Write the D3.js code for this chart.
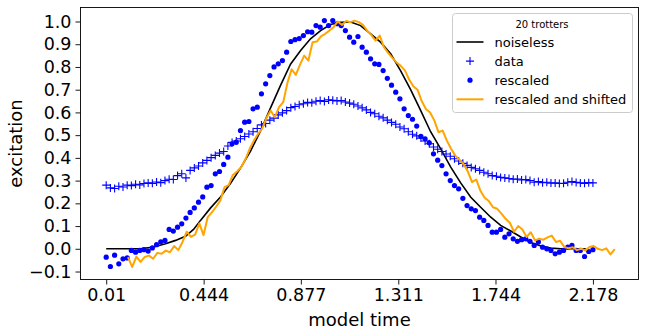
<!DOCTYPE html>
<html>
<head>
<meta charset="utf-8">
<script src="https://cdn.jsdelivr.net/npm/d3@7"></script>
<style>
  body { margin: 0; background: #fff; }
  text { font-family: "DejaVu Sans", sans-serif; fill: #000; }
</style>
</head>
<body>
<svg id="chart" width="645" height="333"></svg>
<script>
// sample times of the simulation (grid from first to last step)
var timeStart = 0.01;
var timeEnd = 2.178;
var timeCount = 117;
var times = d3.range(timeCount).map(function (i) {
  return timeStart + i * (timeEnd - timeStart) / (timeCount - 1);
});

// shift applied to the "rescaled and shifted" curve
var timeShift = 0.097;

var dataValues = [
  0.280, 0.268, 0.265, 0.275, 0.272, 0.280, 0.278, 0.284, 0.281, 0.287,
  0.290, 0.288, 0.294, 0.291, 0.300, 0.306, 0.305, 0.322, 0.330, 0.312,
  0.345, 0.356, 0.364, 0.378, 0.389, 0.401, 0.411, 0.421, 0.428, 0.452,
  0.468, 0.474, 0.484, 0.494, 0.505, 0.515, 0.529, 0.545, 0.551, 0.566,
  0.575, 0.589, 0.598, 0.608, 0.621, 0.626, 0.634, 0.638, 0.644, 0.642,
  0.649, 0.652, 0.648, 0.655, 0.653, 0.650, 0.652, 0.646, 0.641, 0.636,
  0.628, 0.620, 0.611, 0.600, 0.594, 0.583, 0.576, 0.566, 0.556, 0.548,
  0.536, 0.528, 0.515, 0.504, 0.497, 0.487, 0.474, 0.462, 0.448, 0.438,
  0.428, 0.417, 0.407, 0.396, 0.386, 0.376, 0.367, 0.358, 0.352, 0.345,
  0.337, 0.330, 0.322, 0.319, 0.314, 0.312, 0.309, 0.306, 0.307, 0.303,
  0.305, 0.300, 0.293, 0.296, 0.291, 0.293, 0.289, 0.290, 0.287, 0.288,
  0.293, 0.296, 0.292, 0.290, 0.288, 0.291, 0.290
];

var rescaledValues = [
  -0.037, -0.078, -0.028, -0.066, -0.044, -0.040, -0.007, -0.015, -0.007, -0.004,
  -0.010, 0.004, 0.018, 0.031, 0.037, 0.085, 0.078, 0.095, 0.110, 0.135,
  0.160, 0.180, 0.205, 0.228, 0.271, 0.278, 0.330, 0.340, 0.371, 0.403,
  0.462, 0.469, 0.520, 0.557, 0.560, 0.616, 0.623, 0.682, 0.726, 0.762,
  0.800, 0.814, 0.828, 0.865, 0.912, 0.920, 0.925, 0.938, 0.955, 0.953,
  0.982, 0.975, 1.004, 0.982, 1.004, 0.990, 0.982, 0.960, 0.931, 0.909,
  0.934, 0.887, 0.865, 0.836, 0.814, 0.811, 0.784, 0.750, 0.720, 0.689,
  0.660, 0.616, 0.586, 0.570, 0.540, 0.495, 0.484, 0.466, 0.418, 0.390,
  0.366, 0.330, 0.300, 0.278, 0.264, 0.222, 0.190, 0.176, 0.168, 0.139,
  0.125, 0.103, 0.073, 0.073, 0.085, 0.051, 0.066, 0.044, 0.033, 0.040,
  0.044, 0.033, 0.015, 0.030, 0.007, 0.000, -0.007, -0.022, -0.015, -0.007,
  0.007, 0.015, -0.007, -0.007, -0.034, -0.012, -0.004
];

var shiftedValues = [
  -0.037, -0.080, -0.035, -0.058, -0.036, -0.030, -0.044, -0.018, -0.022, -0.008,
  -0.015, 0.012, -0.006, 0.030, 0.075, 0.052, 0.062, 0.112, 0.060, 0.139,
  0.160, 0.185, 0.212, 0.271, 0.280, 0.325, 0.340, 0.360, 0.395, 0.440,
  0.476, 0.505, 0.530, 0.575, 0.608, 0.579, 0.623, 0.645, 0.730, 0.790,
  0.765, 0.810, 0.850, 0.828, 0.909, 0.912, 0.935, 0.946, 0.960, 0.975,
  1.000, 0.985, 1.002, 0.997, 1.004, 0.997, 0.985, 0.960, 0.940, 0.916,
  0.938, 0.887, 0.862, 0.840, 0.820, 0.805, 0.785, 0.745, 0.715, 0.700,
  0.650, 0.615, 0.600, 0.565, 0.513, 0.520, 0.476, 0.440, 0.410, 0.392,
  0.372, 0.340, 0.293, 0.305, 0.255, 0.225, 0.210, 0.183, 0.176, 0.155,
  0.132, 0.115, 0.075, 0.100, 0.085, 0.052, 0.073, 0.037, 0.044, 0.040,
  0.050, 0.058, 0.030, 0.035, 0.008, 0.002, 0.007, -0.006, 0.000, -0.007,
  0.008, 0.012, 0.000, -0.006, 0.002, -0.025, -0.002
];

var noiselessTimes = [
  0.010, 0.163, 0.221, 0.274, 0.319, 0.363, 0.399, 0.430, 0.475, 0.519,
  0.564, 0.608, 0.653, 0.698, 0.742, 0.787, 0.831, 0.876, 0.920, 0.965,
  1.009, 1.054, 1.099, 1.143, 1.188, 1.232, 1.277, 1.321, 1.366, 1.411,
  1.455, 1.500, 1.544, 1.589, 1.634, 1.678, 1.723, 1.767, 1.812, 1.857,
  1.901, 1.946, 1.990, 2.035, 2.146
];
var noiselessValues = [
  0.000, 0.000, 0.008, 0.022, 0.037, 0.055, 0.085, 0.125, 0.180, 0.228,
  0.288, 0.355, 0.430, 0.520, 0.620, 0.720, 0.812, 0.872, 0.924, 0.960,
  0.987, 0.997, 0.998, 0.982, 0.946, 0.909, 0.858, 0.784, 0.700, 0.608,
  0.515, 0.440, 0.360, 0.290, 0.227, 0.183, 0.139, 0.103, 0.078, 0.052,
  0.028, 0.012, 0.003, 0.000, 0.000
];

var xTicks = [0.01, 0.444, 0.877, 1.311, 1.744, 2.178];
var xTickLabels = ['0.01', '0.444', '0.877', '1.311', '1.744', '2.178'];
var yTicks = [-0.1, 0, 0.1, 0.2, 0.3, 0.4, 0.5, 0.6, 0.7, 0.8, 0.9, 1.0];

var legendTitle = '20 trotters';
var legendLabels = ['noiseless', 'data', 'rescaled', 'rescaled and shifted'];

var blue = '#0000ff';
var orange = '#ffa500';

var svg = d3.select('#chart');
svg.append('rect').attr('width', 645).attr('height', 333).attr('fill', '#fff');

var x = d3.scaleLinear().domain([-0.1045, 2.381]).range([80.5, 638.5]);
var y = d3.scaleLinear().domain([-0.1351, 1.0616]).range([279.5, 7.5]);

var plot = svg.append('g');

var line = d3.line()
  .x(function (d) { return x(d[0]); })
  .y(function (d) { return y(d[1]); });

// noiseless
plot.append('path')
  .datum(d3.zip(noiselessTimes, noiselessValues))
  .attr('d', line)
  .attr('fill', 'none')
  .attr('stroke', '#000')
  .attr('stroke-width', 1.6);

// data as '+'
plot.append('g').selectAll('path')
  .data(d3.zip(times, dataValues))
  .enter().append('path')
  .attr('d', function (d) {
    var cx = x(d[0]), cy = y(d[1]), s = 4;
    return 'M' + (cx - s) + ',' + cy + 'H' + (cx + s) + 'M' + cx + ',' + (cy - s) + 'V' + (cy + s);
  })
  .attr('stroke', blue)
  .attr('stroke-width', 1.1)
  .attr('fill', 'none');

// rescaled as dots
plot.append('g').selectAll('circle')
  .data(d3.zip(times, rescaledValues))
  .enter().append('circle')
  .attr('cx', function (d) { return x(d[0]); })
  .attr('cy', function (d) { return y(d[1]); })
  .attr('r', 2.6)
  .attr('fill', blue);

// rescaled and shifted
plot.append('path')
  .datum(d3.zip(times.map(function (t) { return t + timeShift; }), shiftedValues))
  .attr('d', line)
  .attr('fill', 'none')
  .attr('stroke', orange)
  .attr('stroke-width', 2)
  .attr('stroke-linejoin', 'round');

// axes
var xAxis = d3.axisBottom(x)
  .tickValues(xTicks)
  .tickFormat(function (d, i) { return xTickLabels[i]; })
  .tickSize(5)
  .tickPadding(4);

var yAxis = d3.axisLeft(y)
  .tickValues(yTicks)
  .tickFormat(function (d) { return d3.format('.1f')(d); })
  .tickSize(5)
  .tickPadding(4);

var gx = svg.append('g').attr('transform', 'translate(0,279.5)').call(xAxis);
var gy = svg.append('g').attr('transform', 'translate(80.5,0)').call(yAxis);

[gx, gy].forEach(function (g) {
  g.select('.domain').remove();
  g.selectAll('line').attr('stroke', '#000').attr('stroke-width', 0.9);
  g.selectAll('text')
    .style('font-family', '"DejaVu Sans", sans-serif')
    .style('font-size', '17.5px')
    .attr('fill', '#000');
});
gx.selectAll('text').attr('y', 9).attr('dy', '0.71em');
gy.selectAll('text').attr('dy', '0.32em');

svg.append('rect')
  .attr('x', 80.5).attr('y', 7.5)
  .attr('width', 558).attr('height', 272)
  .attr('fill', 'none')
  .attr('stroke', '#000')
  .attr('stroke-width', 0.9);

svg.append('text')
  .attr('x', 359.5).attr('y', 326)
  .attr('text-anchor', 'middle')
  .style('font-size', '18px')
  .text('model time');

svg.append('text')
  .attr('transform', 'translate(21.5,143.5) rotate(-90)')
  .attr('text-anchor', 'middle')
  .style('font-size', '18px')
  .text('excitation');

// legend
var legend = svg.append('g').attr('transform', 'translate(452.5,13.5)');
legend.append('rect')
  .attr('width', 180).attr('height', 99)
  .attr('rx', 3)
  .attr('fill', '#fff').attr('fill-opacity', 0.8)
  .attr('stroke', '#cccccc').attr('stroke-width', 1);

legend.append('text')
  .attr('x', 89.5).attr('y', 14)
  .attr('text-anchor', 'middle')
  .style('font-size', '10px')
  .text(legendTitle);

legendLabels.forEach(function (label, i) {
  var ry = 28.5 + i * 19.1;
  var row = legend.append('g').attr('transform', 'translate(0,' + ry + ')');
  if (i === 0 || i === 3) {
    row.append('line')
      .attr('x1', 4).attr('x2', 31)
      .attr('stroke', i === 0 ? '#000' : orange)
      .attr('stroke-width', i === 0 ? 1.6 : 2);
  } else if (i === 1) {
    row.append('path')
      .attr('d', 'M13.5,0H21.5M17.5,-4V4')
      .attr('stroke', blue).attr('stroke-width', 1.1);
  } else {
    row.append('circle').attr('cx', 17.5).attr('r', 2.6).attr('fill', blue);
  }
  row.append('text')
    .attr('x', 42).attr('y', 4.7)
    .style('font-size', '13px')
    .text(label);
});
</script>
</body>
</html>
